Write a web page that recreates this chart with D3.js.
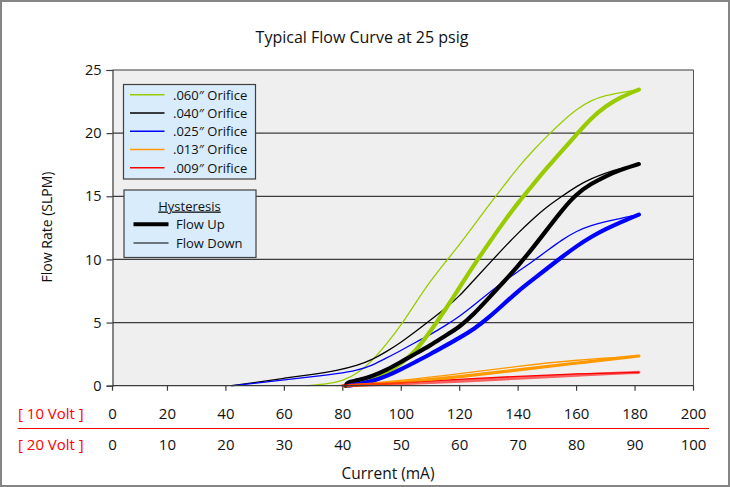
<!DOCTYPE html>
<html><head><meta charset="utf-8">
<script src="https://cdn.jsdelivr.net/npm/d3@7"></script>
<style>
html,body{margin:0;padding:0;background:#fff;}
svg{display:block;font-family:"Open Sans",sans-serif;}
</style></head>
<body><svg id="c" width="730" height="487"></svg>
<script>
// ---- data (x = current in mA on the 10 Volt scale, y = flow in SLPM) ----
const orifices = [".060″ Orifice", ".040″ Orifice", ".025″ Orifice", ".013″ Orifice", ".009″ Orifice"];
const colors = ["#99cc00", "#000000", "#0000ff", "#ff9900", "#ff0000"];

const o060Up = [[81,0],[86,0.25],[90,0.55],[95,1.05],[100,1.75],[105,2.75],[110,4.3],[115,6.0],[120,7.8],[125,9.6],[130,11.3],[135,12.95],[140,14.5],[145,15.9],[150,17.3],[155,18.6],[160,19.9],[165,21.2],[170,22.15],[175,22.85],[181.3,23.45]];
const o060Down = [[68,0],[75,0.15],[80,0.4],[85,0.95],[90,1.95],[95,3.3],[100,4.8],[105,6.6],[110,8.3],[115,9.75],[120,11.2],[125,12.75],[130,14.3],[135,15.8],[140,17.3],[145,18.6],[150,19.8],[155,20.9],[160,21.9],[165,22.6],[170,23.0],[175,23.2],[181.3,23.45]];
const o040Up = [[81,0],[81.5,0.3],[85,0.4],[90,0.75],[95,1.25],[100,1.9],[105,2.55],[110,3.2],[115,3.95],[120,4.65],[125,5.7],[130,6.95],[135,8.2],[140,9.5],[145,10.9],[150,12.4],[155,13.9],[160,15.2],[165,16.0],[170,16.6],[175,17.1],[181.3,17.55]];
const o040Down = [[42,0],[50,0.25],[60,0.6],[70,0.9],[78,1.2],[85,1.6],[90,2.05],[95,2.7],[100,3.45],[105,4.3],[110,5.2],[115,6.1],[120,7.1],[125,8.4],[130,9.65],[135,10.9],[140,12.1],[145,13.2],[150,14.2],[155,15.0],[160,15.8],[165,16.4],[170,16.85],[175,17.2],[181.3,17.55]];
const o025Up = [[82,0],[86,0.15],[90,0.35],[95,0.75],[100,1.3],[105,1.9],[110,2.5],[115,3.15],[120,3.8],[125,4.5],[130,5.4],[135,6.45],[140,7.5],[145,8.4],[150,9.3],[155,10.2],[160,11.05],[165,11.8],[170,12.4],[175,12.95],[181.3,13.55]];
const o025Down = [[42,0],[50,0.2],[60,0.47],[70,0.72],[78,0.95],[85,1.22],[90,1.6],[95,2.2],[100,2.8],[105,3.45],[110,4.05],[115,4.75],[120,5.5],[125,6.4],[130,7.35],[135,8.25],[140,9.05],[145,9.85],[150,10.7],[155,11.55],[160,12.25],[165,12.7],[170,13.0],[175,13.25],[181.3,13.55]];
const o013Up = [[82,0],[100,0.25],[120,0.7],[140,1.25],[160,1.8],[181.3,2.35]];
const o013Down = [[78,0],[100,0.4],[120,0.95],[140,1.55],[160,2.05],[181.3,2.35]];
const o009Up = [[80,0],[100,0.15],[120,0.35],[140,0.6],[160,0.85],[181.3,1.06]];
const o009Down = [[80,0],[100,0.25],[120,0.5],[140,0.75],[160,0.95],[181.3,1.06]];

const upSeries = [o060Up, o040Up, o025Up, o013Up, o009Up];
const downSeries = [o060Down, o040Down, o025Down, o013Down, o009Down];

const yTicks = [0, 5, 10, 15, 20, 25];
const xTicks10V = [0, 20, 40, 60, 80, 100, 120, 140, 160, 180, 200];
const xTicks20V = [0, 10, 20, 30, 40, 50, 60, 70, 80, 90, 100];

const title = "Typical Flow Curve at 25 psig";
const yTitle = "Flow Rate (SLPM)";
const xTitle = "Current (mA)";
const row1Label = "[ 10 Volt ]";
const row2Label = "[ 20 Volt ]";
const hystTitle = "Hysteresis";
const hystLabels = ["Flow Up", "Flow Down"];

// ---- layout ----
const svg = d3.select("#c");
const plotL = 112.5, plotR = 693.5, plotT = 70, plotB = 385.7;
const x = d3.scaleLinear().domain([0, 200]).range([109, 693.5]);
const y = d3.scaleLinear().domain([0, 25]).range([plotB, plotT]);
const gridCol = "#3c3c3c";

// outer border
svg.append("rect").attr("x", 1).attr("y", 1).attr("width", 728).attr("height", 485)
  .attr("fill", "#fff").attr("stroke", "#858585").attr("stroke-width", 2);

// title
svg.append("text").attr("x", 362).attr("y", 43).attr("text-anchor", "middle")
  .attr("font-size", 16).attr("fill", "#111").text(title);

// plot background
svg.append("rect").attr("x", plotL).attr("y", plotT).attr("width", plotR - plotL).attr("height", plotB - plotT)
  .attr("fill", "#efefef");

// gridlines
svg.append("g").selectAll("line").data(yTicks.filter(d => d > 0)).join("line")
  .attr("x1", plotL).attr("x2", plotR).attr("y1", d => y(d)).attr("y2", d => y(d))
  .attr("stroke", gridCol).attr("stroke-width", 1.2);

// right border
svg.append("line").attr("x1", plotR).attr("x2", plotR).attr("y1", plotT).attr("y2", plotB)
  .attr("stroke", "#555").attr("stroke-width", 1);

// curves
const line = d3.line().x(d => x(d[0])).y(d => y(d[1])).curve(d3.curveBasis);
const gCurves = svg.append("g").attr("fill", "none").attr("stroke-linecap", "round").attr("stroke-linejoin", "round");
downSeries.forEach((s, i) => {
  gCurves.append("path").attr("d", line(s)).attr("stroke", colors[i]).attr("stroke-width", 1.3);
});
upSeries.forEach((s, i) => {
  gCurves.append("path").attr("d", line(s)).attr("stroke", colors[i])
    .attr("stroke-width", i >= 3 ? 3.2 : 4.2)
    .attr("stroke-opacity", i === 4 ? 0.6 : 1);
});

// y axis
const yAxis = svg.append("g").attr("transform", `translate(${plotL},0)`)
  .call(d3.axisLeft(y).tickValues(yTicks).tickSize(6).tickPadding(5));
yAxis.select(".domain").attr("stroke", gridCol).attr("stroke-width", 1.2);
yAxis.selectAll(".tick line").attr("stroke", gridCol).attr("stroke-width", 1.2);
yAxis.selectAll(".tick text").attr("font-size", 14.5).attr("font-family", "Open Sans").attr("fill", "#111");

// x axis line + ticks
svg.append("line").attr("x1", plotL).attr("x2", plotR).attr("y1", plotB).attr("y2", plotB)
  .attr("stroke", gridCol).attr("stroke-width", 1.2);
const xPos = v => Math.max(x(v), plotL);
svg.append("g").selectAll("line").data(xTicks10V).join("line")
  .attr("x1", d => xPos(d)).attr("x2", d => xPos(d)).attr("y1", plotB).attr("y2", plotB + 5)
  .attr("stroke", gridCol).attr("stroke-width", 1.2);

// tick label rows
svg.append("g").selectAll("text").data(xTicks10V).join("text")
  .attr("x", d => xPos(d)).attr("y", 418.5).attr("text-anchor", "middle")
  .attr("font-size", 15).attr("fill", "#111").text(d => d);
svg.append("g").selectAll("text").data(xTicks20V).join("text")
  .attr("x", (d, i) => xPos(xTicks10V[i])).attr("y", 449.5).attr("text-anchor", "middle")
  .attr("font-size", 15).attr("fill", "#111").text(d => d);
svg.append("text").attr("x", 18).attr("y", 418.5).attr("font-size", 15).attr("fill", "#ff0000").text(row1Label);
svg.append("text").attr("x", 18).attr("y", 449.5).attr("font-size", 15).attr("fill", "#ff0000").text(row2Label);
svg.append("line").attr("x1", 17.5).attr("x2", 709).attr("y1", 428.5).attr("y2", 428.5)
  .attr("stroke", "#ff0000").attr("stroke-width", 1.2);

// axis titles
svg.append("text").attr("x", 388).attr("y", 479).attr("text-anchor", "middle")
  .attr("font-size", 15.5).attr("fill", "#111").text(xTitle);
svg.append("text").attr("transform", "translate(52,227) rotate(-90)").attr("text-anchor", "middle")
  .attr("font-size", 14).attr("fill", "#111").text(yTitle);

// legend 1
const lg1 = svg.append("g");
lg1.append("rect").attr("x", 123.5).attr("y", 84.5).attr("width", 132).attr("height", 94.5)
  .attr("fill", "#d9ecfb").attr("stroke", "#404040").attr("stroke-width", 1.2);
orifices.forEach((name, i) => {
  const cy = 94.7 + i * 18.25;
  lg1.append("line").attr("x1", 130).attr("x2", 164.5).attr("y1", cy).attr("y2", cy)
    .attr("stroke", colors[i]).attr("stroke-width", 1.6);
  lg1.append("text").attr("x", 173).attr("y", cy + 5).attr("font-size", 13).attr("fill", "#111").text(name);
});

// legend 2
const lg2 = svg.append("g");
lg2.append("rect").attr("x", 124).attr("y", 190).attr("width", 132).attr("height", 67.5)
  .attr("fill", "#d9ecfb").attr("stroke", "#404040").attr("stroke-width", 1.2);
lg2.append("text").attr("x", 189.5).attr("y", 210.5).attr("text-anchor", "middle")
  .attr("font-size", 13).attr("fill", "#111").attr("text-decoration", "underline").text(hystTitle);
[4, 1.2].forEach((w, i) => {
  const cy = 224.3 + i * 18.7;
  lg2.append("line").attr("x1", 133.5).attr("x2", 168.5).attr("y1", cy).attr("y2", cy)
    .attr("stroke", "#000").attr("stroke-width", w);
  lg2.append("text").attr("x", 176).attr("y", cy + 5).attr("font-size", 13).attr("fill", "#111").text(hystLabels[i]);
});
</script>
</body></html>
